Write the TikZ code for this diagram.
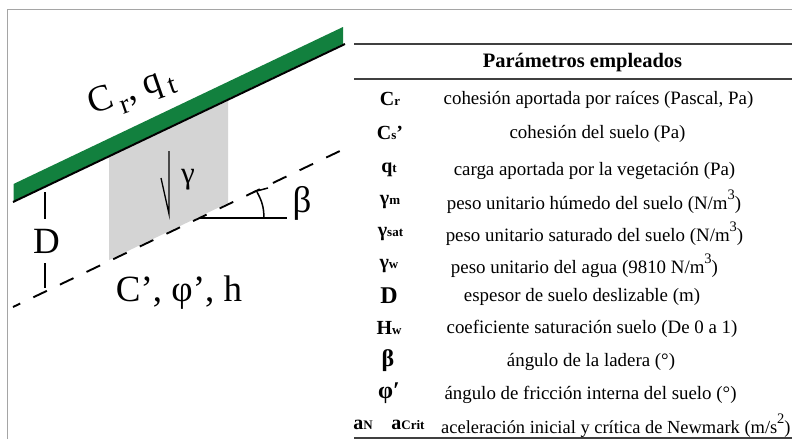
\documentclass[tikz,border=0pt]{standalone}
\usepackage{fontspec}
\setmainfont{Liberation Serif}
\usetikzlibrary{arrows.meta}
\definecolor{veg}{RGB}{18,128,62}
\definecolor{soil}{RGB}{212,212,212}
\definecolor{frameg}{RGB}{165,165,165}
\tikzset{
  dlabel/.style={inner sep=0pt,font=\fontsize{37}{37}\selectfont},
  sym/.style={inner sep=0pt,yshift=-1pt,font=\fontsize{20}{20}\selectfont\bfseries},
  bigsym/.style={inner sep=0pt,yshift=-1pt,font=\fontsize{24}{24}\selectfont\bfseries},
  desc/.style={inner sep=0pt,yshift=-1.5pt,font=\fontsize{18.9}{19}\selectfont},
  rulel/.style={line width=1.1pt,black!75},
  thin line/.style={line width=1.1pt,black},
}
\newcommand{\subb}[1]{{\fontsize{13}{13}\selectfont\bfseries #1}}
\newcommand{\cube}{\raisebox{0.55em}{\fontsize{14.5}{14}\selectfont 3}}
\begin{document}
\begin{tikzpicture}[x=1pt,y=-1pt]
\useasboundingbox (0,0) rectangle (792,439);
\fill[white] (0,0) rectangle (792,439);
% frame
\draw[frameg,line width=1.1pt] (7.5,439) -- (7.5,9.5) -- (792,9.5);
% soil block
\fill[soil] (109,155) -- (228,101) -- (228,203) -- (109,260) -- cycle;
% vegetation band
\fill[veg] (13.5,184) -- (343,27) -- (343,44) -- (13.5,201) -- cycle;
\coordinate (gl) at (13,202);
\coordinate (gr) at (345,44);
\draw[line width=2pt] (gl) -- (gr);
% slip surface
\coordinate (sl) at (13,307);
\coordinate (sr) at (342,150);
\draw[line width=1.9pt,dash pattern=on 15pt off 14.5pt,dash phase=7pt] (sl) -- (sr);
% D dimension
\node[dlabel,minimum height=44pt] (D) at (46.5,241) {D};
\coordinate (dt) at (45,192);
\coordinate (db) at (45,288);
\draw[thin line] (dt) -- (dt|-D.north);
\draw[thin line] (db|-D.south) -- (db);
% gamma arrow
\coordinate (ga) at (169,151);
\coordinate (gb) at (169,214);
\coordinate (gc) at (161,178);
\draw[line width=1.3pt] (ga) -- (gb) -- (gc);
\node[dlabel,font=\fontsize{31}{31}\selectfont] (gam) at (188,180) {γ};
% beta angle
\coordinate (bo) at (199,218);
\coordinate (be) at (287,218);
\draw[line width=1.9pt] (bo) -- (be);
\draw[line width=1.5pt] (264,218) to[bend right=14] (257,192);
\draw[line width=1.5pt] (253,192) -- (268,188);
\node[dlabel] (beta) at (302,203) {β};
% labels
\node[dlabel,rotate=19] (cr) at (132,93) {C\raisebox{-0.28em}{\fontsize{28}{28}\selectfont\,r}, q\raisebox{-0.2em}{\fontsize{28}{28}\selectfont\,t}};
\node[dlabel] (cp) at (179,293) {C’, φ’, h};
% table rules
\coordinate (r1a) at (354,44); \coordinate (r1b) at (792,44);
\coordinate (r2a) at (354,79); \coordinate (r2b) at (792,79);
\coordinate (r3a) at (354,438); \coordinate (r3b) at (792,438);
\draw[rulel] (r1a) -- (r1b);
\draw[rulel] (r2a) -- (r2b);
\draw[rulel] (r3a) -- (r3b);
\node[inner sep=0pt,font=\fontsize{20.5}{20}\selectfont\bfseries] (title) at (582.5,62.5) {Parámetros empleados};
% rows
\node[sym] (s1) at (390,98) {C\subb{r}};
\node[desc] (d1) at (598.5,98) {cohesión aportada por raíces (Pascal, Pa)};
\node[sym] (s2) at (390,132) {C\subb{s}’};
\node[desc] (d2) at (597.5,132) {cohesión del suelo (Pa)};
\node[sym] (s3) at (389,169) {q\subb{t}};
\node[desc] (d3) at (594.5,169) {carga aportada por la vegetación (Pa)};
\node[sym] (s4) at (390,201) {γ\subb{m}};
\node[desc] (d4) at (594,200) {peso unitario húmedo del suelo (N/m\cube)};
\node[sym] (s5) at (390.5,233) {γ\subb{sat}};
\node[desc] (d5) at (594.5,232) {peso unitario saturado del suelo (N/m\cube)};
\node[sym] (s6) at (389,265) {γ\subb{w}};
\node[desc] (d6) at (584.5,264) {peso unitario del agua (9810 N/m\cube)};
\node[bigsym] (s7) at (389,295) {D};
\node[desc] (d7) at (582,295) {espesor de suelo deslizable (m)};
\node[sym] (s8) at (389,327) {H\subb{w}};
\node[desc] (d8) at (592,327) {coeficiente saturación suelo (De 0 a 1)};
\node[bigsym] (s9) at (388,360) {β};
\node[desc] (d9) at (591,360) {ángulo de la ladera (°)};
\node[bigsym] (s10) at (389,392) {φ′};
\node[desc] (d10) at (590.5,393) {ángulo de fricción interna del suelo (°)};
\node[sym] (s11a) at (363,424) {a\subb{N}};
\node[sym] (s11b) at (408,424) {a\subb{Crit}};
\node[desc,anchor=west,font=\fontsize{18.45}{19}\selectfont] (d11) at (441,424) {aceleración inicial y crítica de Newmark (m/s\raisebox{0.55em}{\fontsize{14.5}{14}\selectfont 2}\rlap{)}};
\end{tikzpicture}
\end{document}
